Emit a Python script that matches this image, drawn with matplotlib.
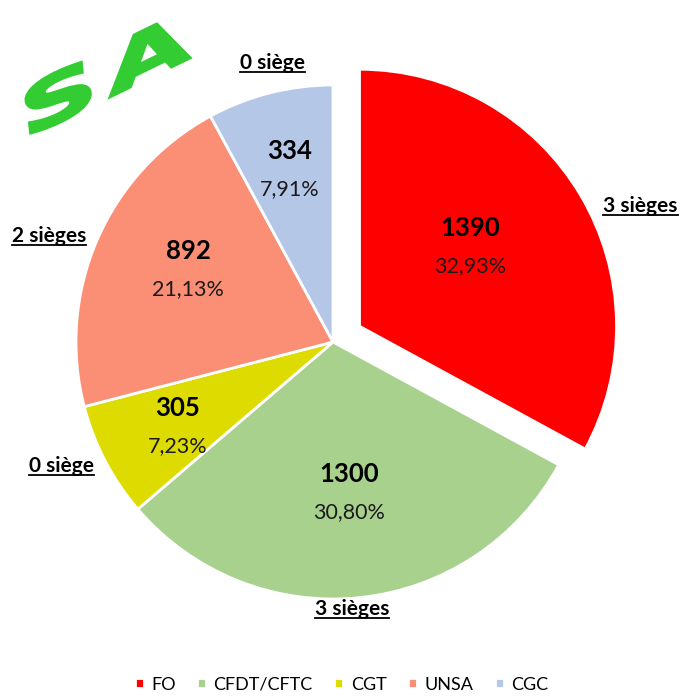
import matplotlib
matplotlib.use("Agg")
import matplotlib.pyplot as plt
import numpy as np
from matplotlib.textpath import TextPath
from matplotlib.patches import PathPatch
from matplotlib.font_manager import FontProperties
from matplotlib.transforms import Affine2D

# donnees
syndicats = ["FO", "CFDT/CFTC", "CGT", "UNSA", "CGC"]
voix = [1390, 1300, 305, 892, 334]
pourcents = ["32,93%", "30,80%", "7,23%", "21,13%", "7,91%"]
sieges = ["3 sièges", "3 sièges", "0 siège", "2 sièges", "0 siège"]
couleurs = ["#FF0000", "#A9D18E", "#DDDB00", "#FA8F76", "#B4C7E7"]

# placement des etiquettes (fraction du rayon, decalage d'angle)
dist_val = [0.53, 0.59, 0.69, 0.63, 0.69]
ang_val = [5, 0, 1, -3, 0]
dist_siege = [1.19, 1.04, 1.16, 1.18, 1.11]
ang_siege = [-7.5, -2, -3, 3, -2]

plt.rcParams["font.family"] = ["Lato", "DejaVu Sans"]

fig = plt.figure(figsize=(6.83, 6.99), dpi=100)
ax = fig.add_axes([0, 0, 1, 1])
R = 257
wedges, _ = ax.pie(voix, colors=couleurs, startangle=90, counterclock=False,
                   explode=[0.12 * R, 0, 0, 0, 0], center=(333, 357), radius=R,
                   wedgeprops=dict(edgecolor="white", linewidth=2))
ax.set_xlim(0, 683)
ax.set_ylim(0, 699)
ax.set_aspect("auto")
ax.axis("off")

seat_texts = []
for i, w in enumerate(wedges):
    cx, cy = w.center
    mid = np.deg2rad((w.theta1 + w.theta2) / 2 + ang_val[i])
    x = cx + dist_val[i] * R * np.cos(mid)
    y = cy + dist_val[i] * R * np.sin(mid)
    ax.text(x, y + 19, str(voix[i]), ha="center", va="center",
            fontsize=18.5, fontweight="bold", color="#000000")
    ax.text(x, y - 19, pourcents[i], ha="center", va="center",
            fontsize=15.5, color="#1a1a1a")
    ms = np.deg2rad((w.theta1 + w.theta2) / 2 + ang_siege[i])
    t = ax.text(cx + dist_siege[i] * R * np.cos(ms), cy + dist_siege[i] * R * np.sin(ms),
                sieges[i], ha="center", va="center", fontsize=15,
                fontweight="bold", color="#000000")
    seat_texts.append(t)

# soulignement
fig.canvas.draw()
rend = fig.canvas.get_renderer()
for t in seat_texts:
    bb = t.get_window_extent(rend)
    ax.plot([bb.x0, bb.x1], [bb.y0 + 1, bb.y0 + 1], color="black", lw=1.3)

# logo SA
prop = FontProperties(family="DejaVu Sans", weight="bold", style="italic")
for lettre, dx in [("S", 0.0), ("A", 0.82)]:
    tp = TextPath((dx, 0), lettre, size=1, prop=prop)
    tr = Affine2D().scale(118, 62).rotate_deg(26).translate(30, 563) + ax.transData
    ax.add_patch(PathPatch(tp, facecolor="#33CC33", edgecolor="#33CC33",
                           linewidth=2, transform=tr))

fig.legend(wedges, syndicats, loc="lower center", bbox_to_anchor=(0.5, -0.014),
           ncol=5, frameon=False, fontsize=13, handlelength=0.5,
           handleheight=0.5, handletextpad=0.4, columnspacing=1.2)

fig.savefig("out.png", dpi=100)
